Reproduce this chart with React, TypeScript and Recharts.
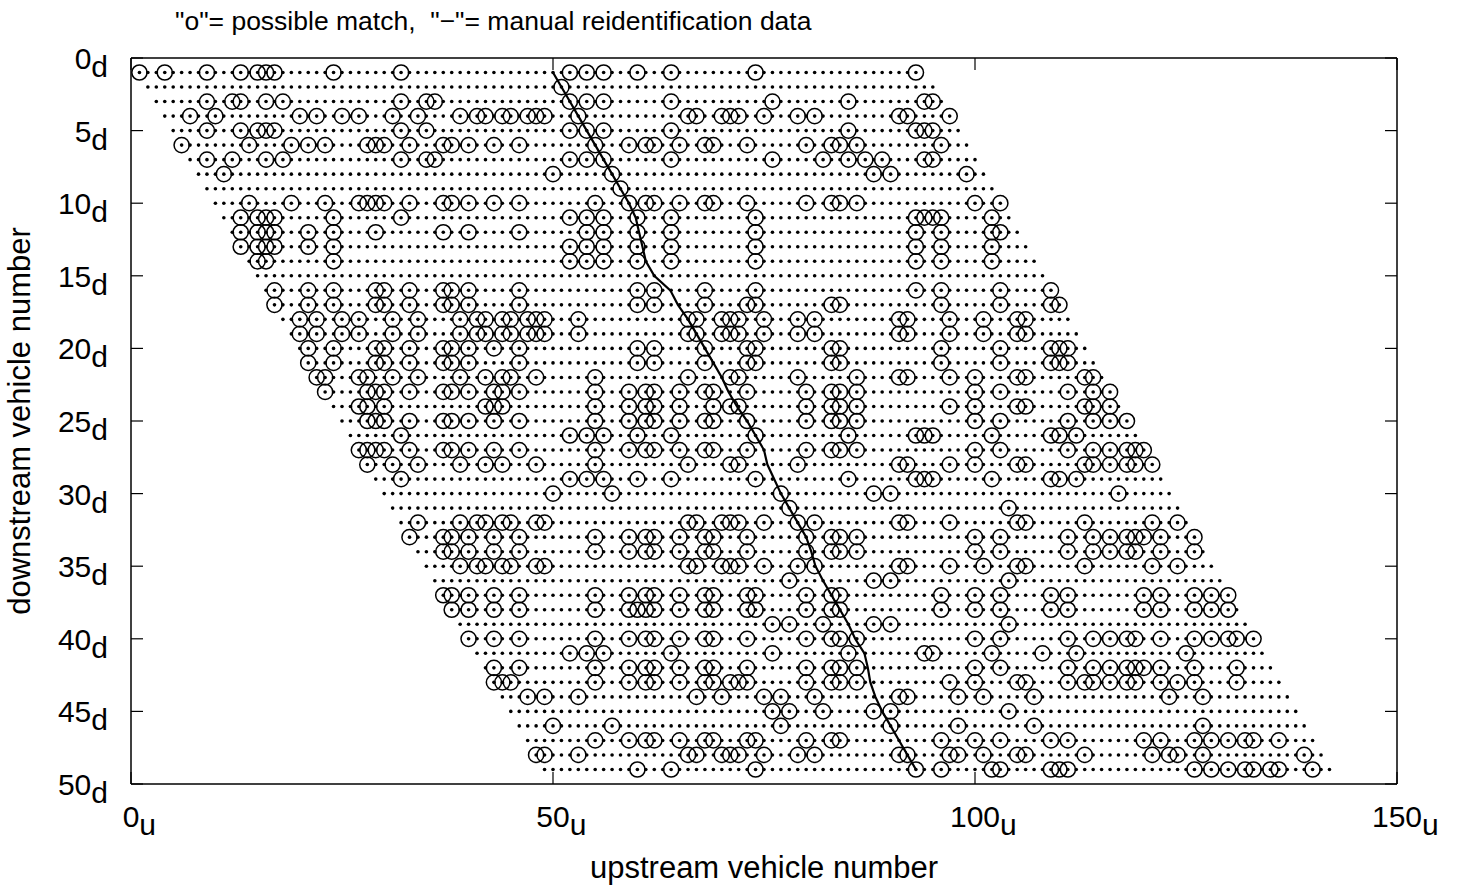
import React from 'react';
import { ScatterChart, Scatter, XAxis, YAxis } from 'recharts';

// downstream vehicle number of each row
const downstreamRows = [
  1, 2, 3, 4, 5, 6, 7, 8, 9, 10, 11, 12, 13, 14, 15, 16, 17, 18, 19, 20, 21, 22, 23, 24, 25,
  26, 27, 28, 29, 30, 31, 32, 33, 34, 35, 36, 37, 38, 39, 40, 41, 42, 43, 44, 45, 46, 47, 48, 49,
];

// first and last upstream vehicle that is a candidate for each downstream vehicle
const firstCandidate = [
  1, 2, 3, 4, 5, 6, 7, 8, 9, 10, 11, 12, 13, 14, 15, 16, 17, 18, 19, 20, 21, 22, 23, 24, 25,
  26, 27, 28, 29, 30, 31, 32, 33, 34, 35, 36, 37, 38, 39, 40, 41, 42, 43, 44, 45, 46, 47, 48, 49,
];
const lastCandidate = [
  93, 95, 96, 97, 98, 99, 100, 101, 102, 103, 104, 105, 106, 107, 108, 109, 110, 111, 112, 113,
  114, 115, 116, 117, 118, 119, 120, 121, 122, 123, 124, 125, 126, 127, 128, 129, 130, 131, 132,
  133, 134, 135, 136, 137, 138, 139, 140, 141, 142,
];

// upstream vehicles flagged "o" = possible match, one list per downstream row
const possibleMatches: number[][] = [
  [1, 4, 9, 13, 15, 16, 17, 24, 32, 52, 54, 56, 60, 64, 74, 93],
  [51],
  [9, 12, 13, 16, 18, 32, 35, 36, 52, 54, 56, 64, 76, 85, 94, 95],
  [7, 10, 20, 22, 25, 27, 31, 34, 39, 41, 42, 44, 45, 47, 48, 49, 53, 66, 67, 70, 71, 72, 75, 79, 81, 91, 92, 97],
  [9, 13, 15, 16, 17, 32, 35, 52, 54, 56, 64, 85, 93, 94, 95],
  [6, 14, 19, 21, 23, 28, 29, 30, 33, 37, 38, 40, 43, 46, 55, 59, 61, 62, 65, 68, 69, 73, 80, 83, 84, 86, 96],
  [9, 12, 16, 18, 32, 35, 36, 52, 54, 56, 64, 76, 82, 85, 87, 89, 94, 95],
  [11, 50, 57, 88, 90, 99],
  [58],
  [14, 19, 23, 27, 28, 29, 30, 33, 37, 38, 40, 43, 46, 55, 59, 61, 62, 65, 68, 69, 73, 80, 83, 84, 86, 100, 103],
  [13, 15, 16, 17, 24, 32, 52, 54, 56, 60, 64, 74, 93, 94, 95, 96, 102],
  [13, 15, 16, 17, 21, 24, 29, 37, 40, 46, 54, 56, 60, 64, 74, 93, 96, 102, 103],
  [13, 15, 16, 17, 21, 24, 52, 54, 56, 60, 64, 74, 93, 96, 102],
  [15, 16, 24, 52, 54, 56, 60, 64, 74, 93, 96, 102],
  [],
  [17, 21, 24, 29, 30, 33, 37, 38, 40, 46, 60, 62, 68, 74, 93, 96, 103, 109],
  [17, 21, 24, 29, 30, 33, 37, 38, 40, 46, 60, 62, 68, 73, 74, 83, 84, 96, 103, 109, 110],
  [20, 22, 25, 27, 31, 34, 39, 41, 42, 44, 45, 47, 48, 49, 53, 66, 67, 70, 71, 72, 75, 79, 81, 91, 92, 97, 101, 105, 106],
  [20, 22, 25, 27, 31, 34, 39, 41, 42, 44, 45, 47, 48, 49, 53, 66, 67, 70, 71, 72, 75, 79, 81, 91, 92, 97, 101, 105, 106],
  [21, 24, 29, 30, 33, 37, 38, 40, 43, 46, 60, 62, 68, 73, 74, 83, 84, 96, 103, 109, 110, 111],
  [21, 24, 29, 30, 33, 37, 38, 40, 46, 60, 62, 68, 73, 74, 83, 84, 96, 103, 109, 110, 111],
  [22, 23, 27, 28, 31, 34, 39, 42, 44, 45, 48, 55, 66, 71, 72, 79, 86, 91, 92, 97, 100, 105, 106, 113, 114],
  [23, 28, 29, 30, 33, 37, 38, 40, 43, 44, 46, 55, 59, 61, 62, 65, 68, 69, 73, 80, 83, 84, 86, 100, 103, 111, 114, 116],
  [27, 28, 30, 42, 43, 44, 55, 59, 61, 62, 65, 69, 71, 72, 80, 83, 84, 86, 97, 100, 105, 106, 113, 114, 116],
  [28, 29, 30, 33, 37, 38, 40, 43, 46, 55, 59, 61, 62, 65, 68, 69, 73, 80, 83, 84, 86, 100, 103, 111, 114, 116, 118],
  [32, 52, 54, 56, 60, 64, 74, 85, 93, 94, 95, 102, 109, 110, 112],
  [27, 28, 29, 30, 33, 37, 38, 40, 43, 46, 55, 59, 61, 62, 65, 68, 69, 73, 80, 83, 84, 86, 100, 103, 111, 114, 116, 118, 119, 120],
  [28, 31, 34, 39, 42, 44, 48, 55, 66, 71, 72, 79, 91, 92, 97, 100, 105, 106, 113, 114, 116, 118, 119, 121],
  [32, 52, 54, 56, 60, 64, 74, 85, 93, 94, 95, 102, 109, 110, 112],
  [50, 57, 77, 88, 90, 117],
  [78, 104],
  [34, 39, 41, 42, 44, 45, 48, 49, 66, 67, 70, 71, 72, 75, 79, 81, 91, 92, 97, 105, 106, 113, 121, 124],
  [33, 37, 38, 40, 43, 46, 55, 59, 61, 62, 65, 68, 69, 73, 80, 83, 84, 86, 100, 103, 111, 114, 116, 118, 119, 120, 122, 126],
  [37, 38, 40, 43, 46, 55, 59, 61, 62, 65, 68, 69, 73, 80, 83, 84, 86, 100, 103, 111, 114, 116, 118, 119, 122, 126],
  [39, 41, 42, 44, 45, 48, 49, 66, 67, 70, 71, 72, 75, 79, 81, 91, 92, 97, 101, 105, 106, 113, 121, 124],
  [78, 88, 90, 104],
  [37, 38, 40, 43, 46, 55, 59, 61, 62, 65, 68, 69, 73, 74, 80, 83, 84, 96, 100, 103, 109, 111, 120, 122, 126, 128, 130],
  [38, 40, 43, 46, 55, 59, 60, 61, 62, 65, 68, 69, 73, 74, 80, 83, 84, 96, 100, 103, 109, 111, 120, 122, 126, 128, 130],
  [76, 78, 82, 88, 90, 104],
  [40, 43, 46, 55, 59, 61, 62, 65, 68, 69, 73, 80, 83, 84, 86, 100, 103, 111, 114, 116, 118, 119, 122, 126, 128, 130, 131, 133],
  [52, 54, 56, 64, 76, 85, 94, 95, 102, 108, 112, 125],
  [43, 46, 55, 59, 61, 62, 65, 68, 69, 73, 80, 83, 84, 86, 100, 103, 111, 114, 116, 118, 119, 120, 122, 126, 131],
  [43, 44, 45, 55, 59, 61, 62, 65, 68, 69, 71, 72, 73, 80, 83, 84, 86, 97, 100, 105, 106, 111, 113, 114, 116, 118, 119, 122, 124, 126, 131],
  [47, 49, 53, 67, 70, 75, 77, 81, 91, 92, 98, 101, 107, 123, 127],
  [76, 78, 82, 88, 90, 104],
  [50, 57, 77, 90, 98, 107, 127],
  [55, 59, 61, 62, 65, 68, 69, 73, 74, 80, 83, 84, 96, 100, 103, 109, 111, 120, 122, 126, 128, 130, 132, 133, 136],
  [48, 49, 53, 66, 67, 70, 71, 72, 75, 79, 81, 91, 92, 97, 98, 101, 105, 106, 113, 121, 123, 124, 127, 139],
  [60, 64, 74, 93, 96, 102, 103, 109, 110, 111, 126, 128, 130, 132, 133, 135, 136, 140],
];

// "-" = manual reidentification: upstream vehicle matched to each downstream row
const manualMatch = [
  50, 51, 52, 53, 54, 55, 56, 57, 58, 59, 59.8, 60.2, 60.6, 61, 62, 63.9, 64.8, 66, 67, 68, 69, 70,
  70.8, 71.8, 73, 74, 75, 75.4, 76.2, 77, 78, 79, 80, 80.6, 81.1, 82, 83, 84, 85, 85.8, 86.9, 87.3,
  87.6, 88.2, 89, 90, 91, 92, 93,
];

const upstreamTicks = [0, 50, 100, 150];
const downstreamTicks = [0, 5, 10, 15, 20, 25, 30, 35, 40, 45, 50];

const FONT = '"Liberation Sans", Arial, Helvetica, sans-serif';
const TICK_FONT = 30;

const candidateDots = downstreamRows.flatMap((d, i) => {
  const out: { u: number; d: number }[] = [];
  for (let u = firstCandidate[i]; u <= lastCandidate[i]; u++) out.push({ u, d });
  return out;
});
const matchRings = downstreamRows.flatMap((d, i) => possibleMatches[i].map((u) => ({ u, d })));
const manualLine = downstreamRows.map((d, i) => ({ u: manualMatch[i], d }));

const Dot = (p: any) => <circle cx={p.cx} cy={p.cy} r={1.8} fill="#000" />;
const Ring = (p: any) => (
  <circle cx={p.cx} cy={p.cy} r={7.6} fill="none" stroke="#000" strokeWidth={1.5} />
);
const NoMark = () => <g />;

// digits centred on the tick, subscript "u" trailing
const XTick = (p: any) => {
  const s = String(p.payload.value);
  const w = s.length * 0.556 * TICK_FONT;
  return (
    <text x={p.x - w / 2} y={p.y} fontSize={TICK_FONT} fontFamily={FONT} fill="#000">
      <tspan dy={43}>{s}</tspan>
      <tspan dy={8}>u</tspan>
    </text>
  );
};

const YTick = (p: any) => (
  <text x={p.x} y={p.y} textAnchor="end" fontSize={TICK_FONT} fontFamily={FONT} fill="#000">
    <tspan dy={11}>{p.payload.value}</tspan>
    <tspan dy={8}>d</tspan>
  </text>
);

const frame = { stroke: '#000', strokeWidth: 1.5 };
const inTick = { stroke: '#000', strokeWidth: 1.2 };

export default function App() {
  return (
    <div style={{ position: 'absolute', left: 0, top: 0, width: 1462, height: 890, background: '#fff' }}>
      <div
        style={{
          position: 'absolute',
          left: 175,
          top: 8,
          fontFamily: FONT,
          fontSize: 26.5,
          lineHeight: '26px',
          whiteSpace: 'pre',
          color: '#000',
        }}
      >
        {'"o"= possible match,  "\u2212"= manual reidentification data'}
      </div>
      <ScatterChart
        width={1462}
        height={890}
        margin={{ top: 57, right: 64, bottom: 0, left: 0 }}
        style={{ fontFamily: FONT }}
      >
        <XAxis
          xAxisId="b"
          dataKey="u"
          type="number"
          domain={[0, 150]}
          ticks={upstreamTicks}
          interval={0}
          allowDataOverflow
          orientation="bottom"
          height={106}
          tickSize={-12}
          tickMargin={12}
          tickLine={inTick}
          axisLine={frame}
          tick={(p: any) => <XTick {...p} />}
          label={{
            value: 'upstream vehicle number',
            position: 'insideBottom',
            offset: 12,
            style: { fontSize: 31, fill: '#000', fontFamily: FONT },
          }}
        />
        <XAxis
          xAxisId="t"
          dataKey="u"
          type="number"
          domain={[0, 150]}
          ticks={upstreamTicks}
          interval={0}
          allowDataOverflow
          orientation="top"
          height={1}
          tick={NoMark}
          axisLine={frame}
          tickSize={-12}
          tickLine={inTick}
        />
        <YAxis
          yAxisId="l"
          dataKey="d"
          type="number"
          domain={[0, 50]}
          reversed
          ticks={downstreamTicks}
          interval={0}
          allowDataOverflow
          width={131}
          tickSize={-12}
          tickMargin={35}
          tickLine={inTick}
          axisLine={frame}
          tick={(p: any) => <YTick {...p} />}
          label={{
            value: 'downstream vehicle number',
            angle: -90,
            position: 'insideLeft',
            offset: 19,
            textAnchor: 'middle',
            style: { textAnchor: 'middle', fontSize: 31, fill: '#000', fontFamily: FONT },
          }}
        />
        <YAxis
          yAxisId="r"
          dataKey="d"
          type="number"
          domain={[0, 50]}
          reversed
          ticks={downstreamTicks}
          interval={0}
          allowDataOverflow
          orientation="right"
          width={1}
          tick={NoMark}
          axisLine={frame}
          tickSize={-12}
          tickLine={inTick}
        />
        <Scatter xAxisId="b" yAxisId="l" data={candidateDots} shape={Dot} isAnimationActive={false} />
        <Scatter xAxisId="b" yAxisId="l" data={matchRings} shape={Ring} isAnimationActive={false} />
        <Scatter
          xAxisId="b"
          yAxisId="l"
          data={manualLine}
          line={{ stroke: '#000', strokeWidth: 2.2 }}
          shape={NoMark}
          isAnimationActive={false}
        />
        {/* anchors the top / right frame axes; draws nothing */}
        <Scatter xAxisId="t" yAxisId="r" data={manualLine} shape={NoMark} isAnimationActive={false} />
      </ScatterChart>
    </div>
  );
}
